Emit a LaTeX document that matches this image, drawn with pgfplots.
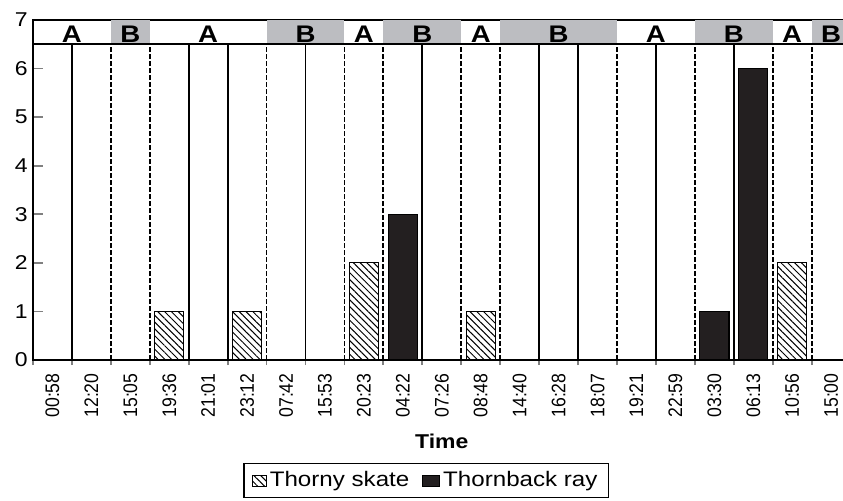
\documentclass[border=0pt]{standalone}
\usepackage{pgfplots}
\pgfplotsset{compat=1.18}
\usetikzlibrary{patterns.meta}
\usepackage{fontspec}
\setmainfont[FakeStretch=1.15]{Liberation Sans}
\newfontfamily\tickfont[FakeStretch=0.9]{Liberation Sans}
\definecolor{bandgray}{RGB}{188,189,193}
\definecolor{barblack}{RGB}{35,31,32}
\pgfplotsset{
  sqlegendA/.style={legend image code/.code={\draw[##1, line width=0.4pt] (0pt,-2.75pt) rectangle (7pt,2.75pt);}},
  sqlegendB/.style={legend image code/.code={\draw[##1, line width=0.4pt] (0pt,-2.75pt) rectangle (8.5pt,2.75pt);}},
}

\begin{document}
\begin{tikzpicture}
\begin{axis}[
  scale only axis,
  width=408.8pt, height=170pt,
  xmin=0, xmax=21, ymin=0, ymax=7,
  axis line style={line width=0.9pt},
  xtick={0.5,1.5,...,20.5},
  xticklabels={00:58,12:20,15:05,19:36,21:01,23:12,07:42,15:53,20:23,04:22,07:26,08:48,14:40,16:28,18:07,19:21,22:59,03:30,06:13,10:56,15:00},
  minor xtick={0,1,...,21},
  xtick pos=bottom, ytick pos=left,
  tick align=inside,
  major x tick style={draw=none},
  minor x tick style={line width=0.9pt, yshift=-2.5pt},
  minor tick length=2.5pt,
  major tick length=5pt,
  ytick={0,...,7},
  y tick style={line width=0.9pt},
  /pgf/number format/assume math mode=true,
  xticklabel style={rotate=90, anchor=east, font=\tickfont\fontsize{9.8}{11}\selectfont, inner sep=0pt},
  xticklabel shift=6.5pt,
  yticklabel style={font=\fontsize{10}{12}\selectfont, inner sep=0pt, xshift=-2.5pt},
  xlabel={Time},
  xlabel style={font=\bfseries\fontsize{10}{12}\selectfont, at={(axis description cs:0.5,-0.238)}, anchor=center},
  legend columns=2,
  legend style={at={(0.481,-0.303)}, anchor=north, draw=black, line width=0.6pt,
    font=\fontsize{10.5}{12}\selectfont, inner xsep=4pt, inner ysep=2pt,
    nodes={inner xsep=1.5pt, inner ysep=2pt},
    /tikz/every even column/.append style={column sep=5pt}},
]
% band B segments
\addplot[fill=bandgray, draw=none, forget plot] coordinates {(2,6.5) (2,7) (3,7) (3,6.5)} -- cycle;
\addplot[fill=bandgray, draw=none, forget plot] coordinates {(6,6.5) (6,7) (8,7) (8,6.5)} -- cycle;
\addplot[fill=bandgray, draw=none, forget plot] coordinates {(9,6.5) (9,7) (11,7) (11,6.5)} -- cycle;
\addplot[fill=bandgray, draw=none, forget plot] coordinates {(12,6.5) (12,7) (15,7) (15,6.5)} -- cycle;
\addplot[fill=bandgray, draw=none, forget plot] coordinates {(17,6.5) (17,7) (19,7) (19,6.5)} -- cycle;
\addplot[fill=bandgray, draw=none, forget plot] coordinates {(20,6.5) (20,7) (21,7) (21,6.5)} -- cycle;
% band bottom line
\addplot[black, line width=0.9pt, mark=none, forget plot] coordinates {(0,6.5) (21,6.5)};
% separators
\addplot[ycomb, black, line width=0.9pt, mark=none, forget plot] coordinates {(1,6.5) (4,6.5) (5,6.5) (7,6.5) (10,6.5) (13,6.5) (14,6.5) (16,6.5) (18,6.5)};
\addplot[ycomb, black, line width=0.9pt, dash pattern=on 2.5pt off 1pt, mark=none, forget plot] coordinates {(2,6.5) (3,6.5) (6,6.5) (8,6.5) (9,6.5) (11,6.5) (12,6.5) (15,6.5) (17,6.5) (19,6.5) (20,6.5)};
% bars
\addplot[ybar, bar width=0.75, bar shift=0pt, draw=black, line width=0.6pt,
  pattern={Lines[angle=-45, distance=2.4pt, line width=0.5pt]}, sqlegendA]
  coordinates {(3.5,1) (5.5,1) (8.5,2) (11.5,1) (19.5,2)};
\addlegendentry{Thorny skate}
\addplot[ybar, bar width=0.75, bar shift=0pt, draw=black, line width=0.6pt, fill=barblack, sqlegendB]
  coordinates {(9.5,3) (17.5,1) (18.5,6)};
\addlegendentry{Thornback ray}
% band letters
\addplot[draw=none, mark=none, forget plot, nodes near coords, point meta=explicit symbolic,
  nodes near coords style={anchor=base, font=\bfseries\fontsize{12}{12}\selectfont, inner sep=0pt}]
  coordinates {(1,6.53) [A] (2.5,6.53) [B] (4.5,6.53) [A] (7,6.53) [B] (8.5,6.53) [A] (10,6.53) [B] (11.5,6.53) [A] (13.5,6.53) [B] (16,6.53) [A] (18,6.53) [B] (19.5,6.53) [A] (20.5,6.53) [B]};
\end{axis}
\pgfresetboundingbox
\path (-16.5pt,-70pt) rectangle (405pt,180pt);
\end{tikzpicture}
\end{document}
